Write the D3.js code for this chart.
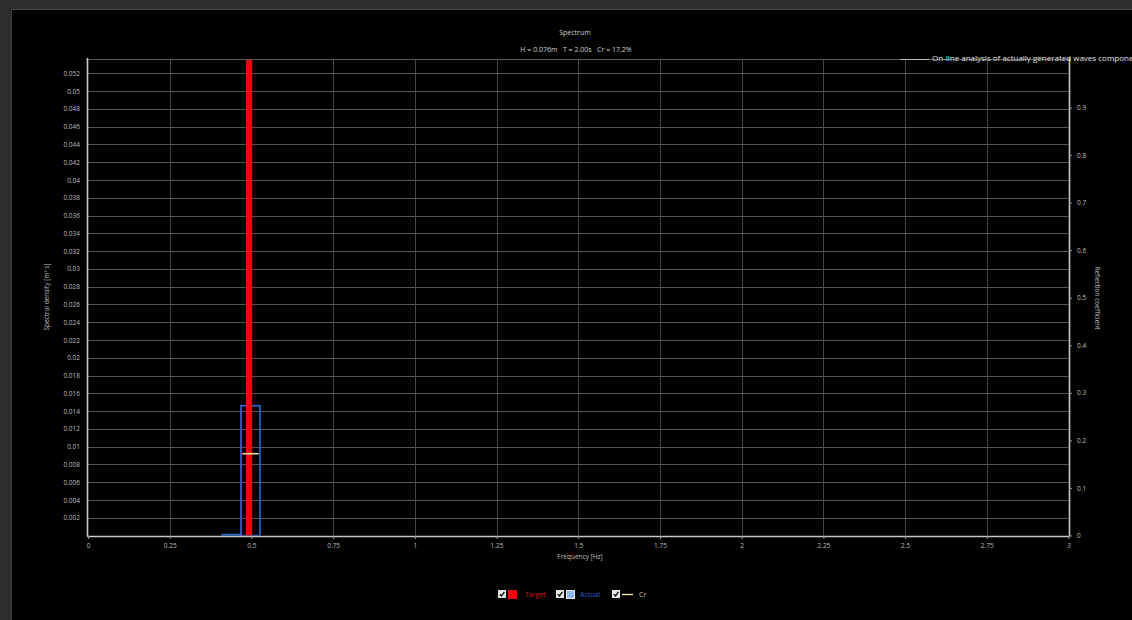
<!DOCTYPE html>
<html><head><meta charset="utf-8">
<script src="https://cdn.jsdelivr.net/npm/d3@7"></script>
<style>
html,body{margin:0;padding:0;background:#2c2c2c;overflow:hidden;}
svg{display:block;font-family:"Open Sans","Noto Sans",sans-serif;}
</style></head>
<body>
<svg id="chart" width="1132" height="620"></svg>
<script>
// ---- data ----
const xTicks = [0, 0.25, 0.5, 0.75, 1, 1.25, 1.5, 1.75, 2, 2.25, 2.5, 2.75, 3];
const xTickLabels = ["0", "0.25", "0.5", "0.75", "1", "1.25", "1.5", "1.75", "2", "2.25", "2.5", "2.75", "3"];
const yLeftTicks = [0.002,0.004,0.006,0.008,0.01,0.012,0.014,0.016,0.018,0.02,0.022,0.024,0.026,0.028,0.03,0.032,0.034,0.036,0.038,0.04,0.042,0.044,0.046,0.048,0.05,0.052];
const yRightTicks = [0, 0.1, 0.2, 0.3, 0.4, 0.5, 0.6, 0.7, 0.8, 0.9];
const targetFreq = [0.493];
const targetValue = [0.06];      // off-scale, clipped at top
const targetBinWidth = 0.019;
const actualFreq = [0.439, 0.497];
const actualValue = [0.0001, 0.0146];
const actualBinWidth = 0.058;
const crFreq = [0.497];
const crValue = [0.172];
const crBinWidth = 0.05;
const titleText = "Spectrum";
const subtitleText = "H = 0.076m   T = 2.00s   Cr = 17.2%";
const groupTitle = "On-line analysis of actually generated waves components";

// ---- layout ----
const svg = d3.select("#chart");
const x = d3.scaleLinear().domain([0, 3]).range([88, 1068.5]);
const yL = d3.scaleLinear().domain([0, 0.0535]).range([535.5, 60]);
const yR = d3.scaleLinear().domain([0, 1]).range([535.5, 60]);

// frame
svg.append("rect").attr("x", 11).attr("y", 9).attr("width", 1121).attr("height", 611).attr("fill", "#000");
svg.append("line").attr("x1", 11).attr("x2", 1132).attr("y1", 9.5).attr("y2", 9.5).attr("stroke", "#4a4a4a");
svg.append("line").attr("x1", 11.5).attr("x2", 11.5).attr("y1", 9).attr("y2", 620).attr("stroke", "#3a3a3a");

// clip
svg.append("clipPath").attr("id", "plotclip").append("rect")
  .attr("x", 88).attr("y", 60).attr("width", 980.5).attr("height", 475.5);

const gridColor = "#555";
// horizontal grid
svg.append("g").selectAll("line").data(yLeftTicks).join("line")
  .attr("x1", 88).attr("x2", 1068.5)
  .attr("y1", d => Math.round(yL(d)) + 0.5).attr("y2", d => Math.round(yL(d)) + 0.5)
  .attr("stroke", gridColor).attr("stroke-width", 1);
// vertical grid
svg.append("g").selectAll("line").data(xTicks.slice(1, -1)).join("line")
  .attr("x1", d => Math.round(x(d)) + 0.5).attr("x2", d => Math.round(x(d)) + 0.5)
  .attr("y1", 60).attr("y2", 535.5)
  .attr("stroke", "#444").attr("stroke-width", 1);
// top border
svg.append("line").attr("x1", 86).attr("x2", 1069).attr("y1", 59.5).attr("y2", 59.5).attr("stroke", "#5a5a5a");

// marks
const marks = svg.append("g").attr("clip-path", "url(#plotclip)");
marks.selectAll("rect.actual").data(actualFreq).join("rect").attr("class", "actual")
  .attr("x", d => x(d - actualBinWidth / 2))
  .attr("width", d => x(d + actualBinWidth / 2) - x(d - actualBinWidth / 2))
  .attr("y", (d, i) => yL(actualValue[i]))
  .attr("height", (d, i) => yL(0) - yL(actualValue[i]))
  .attr("fill", "none").attr("stroke", "#1f6fd6").attr("stroke-width", 1.6);
marks.selectAll("rect.target").data(targetFreq).join("rect").attr("class", "target")
  .attr("x", d => x(d - targetBinWidth / 2))
  .attr("width", d => x(d + targetBinWidth / 2) - x(d - targetBinWidth / 2))
  .attr("y", (d, i) => yL(targetValue[i]))
  .attr("height", (d, i) => yL(0) - yL(targetValue[i]))
  .attr("fill", "#e8090b");
marks.selectAll("line.cr").data(crFreq).join("line").attr("class", "cr")
  .attr("x1", d => x(d - crBinWidth / 2)).attr("x2", d => x(d + crBinWidth / 2))
  .attr("y1", (d, i) => yR(crValue[i])).attr("y2", (d, i) => yR(crValue[i]))
  .attr("stroke", "#f2df96").attr("stroke-width", 1.6);

// axes
const labelColor = "#bdbdbd";
const fs = "6.5px";
const axL = svg.append("g").attr("transform", "translate(87,0)")
  .call(d3.axisLeft(yL).tickValues(yLeftTicks).tickSize(0).tickPadding(7).tickFormat(d => String(+d.toFixed(3))));
const axB = svg.append("g").attr("transform", "translate(0,536)")
  .call(d3.axisBottom(x).tickValues(xTicks).tickSize(3).tickPadding(4).tickFormat((d, i) => xTickLabels[i]));
const axR = svg.append("g").attr("transform", "translate(1069,0)")
  .call(d3.axisRight(yR).tickValues(yRightTicks).tickSize(3).tickPadding(5).tickFormat(d => String(d)));
[axL, axB, axR].forEach(a => {
  a.select(".domain").attr("stroke", "#c8c8c8").attr("stroke-width", 1.6);
  a.selectAll(".tick line").attr("stroke", "#999");
  a.selectAll("text").attr("fill", labelColor).style("font-size", fs).style("font-family", "'Open Sans',sans-serif");
});
axB.select(".domain").attr("d", "M87,0.5H1069.5");
axL.select(".domain").attr("d", "M0.5,58V536");
axR.select(".domain").attr("d", "M0.5,58V536");

// titles
svg.append("text").attr("x", 575).attr("y", 35).attr("text-anchor", "middle")
  .attr("fill", "#d0d0d0").style("font-size", "7px").text(titleText);
svg.append("text").attr("x", 576).attr("y", 52).attr("text-anchor", "middle")
  .attr("fill", "#d0d0d0").style("font-size", "7px").attr("xml:space", "preserve").text(subtitleText);
svg.append("line").attr("x1", 900).attr("x2", 929).attr("y1", 59.5).attr("y2", 59.5).attr("stroke", "#bbb");
svg.append("text").attr("x", 932).attr("y", 61).attr("fill", "#e0e0e0").style("font-size", "8px").text(groupTitle);
svg.append("text").attr("x", 580).attr("y", 559).attr("text-anchor", "middle")
  .attr("fill", labelColor).style("font-size", fs).text("Frequency [Hz]");
svg.append("text").attr("transform", "translate(49,297) rotate(-90)").attr("text-anchor", "middle")
  .attr("fill", labelColor).style("font-size", fs).text("Spectral density [m² s]");
svg.append("text").attr("transform", "translate(1095,298) rotate(90)").attr("text-anchor", "middle")
  .attr("fill", labelColor).style("font-size", fs).text("Reflection coefficient");

// legend
const legend = [
  {name: "Target", color: "#d0101a", box: () => ({type: "rect", fill: "#e8090b", stroke: "#e8090b"})},
  {name: "Actual", color: "#2a5cd0", box: () => ({type: "rect", fill: "#8fb8ee", stroke: "#e8e8e8"})},
  {name: "Cr", color: "#c9c094", box: () => ({type: "line"})}
];
const legX = [498, 556, 612];
const lg = svg.append("g");
legend.forEach((d, i) => {
  const g = lg.append("g").attr("transform", `translate(${legX[i]},590)`);
  g.append("rect").attr("x", 0).attr("y", 0).attr("width", 8).attr("height", 8).attr("fill", "#e6e6e6");
  g.append("path").attr("d", "M1.8,4.2L3.5,6L6.4,1.8").attr("fill", "none").attr("stroke", "#111").attr("stroke-width", 1.4);
  const b = d.box();
  if (b.type === "rect") {
    g.append("rect").attr("x", 10.5).attr("y", 0.5).attr("width", 8).attr("height", 8)
      .attr("fill", b.fill).attr("stroke", b.stroke).attr("stroke-width", 1);
    g.append("text").attr("x", i === 0 ? 27 : 24).attr("y", 6.5).attr("fill", d.color).style("font-size", "7px").text(d.name);
  } else {
    g.append("line").attr("x1", 10).attr("x2", 21).attr("y1", 4.5).attr("y2", 4.5).attr("stroke", "#e8e0b0").attr("stroke-width", 1.4);
    g.append("text").attr("x", 27).attr("y", 6.5).attr("fill", d.color).style("font-size", "7px").text(d.name);
  }
});
</script>
</body></html>
